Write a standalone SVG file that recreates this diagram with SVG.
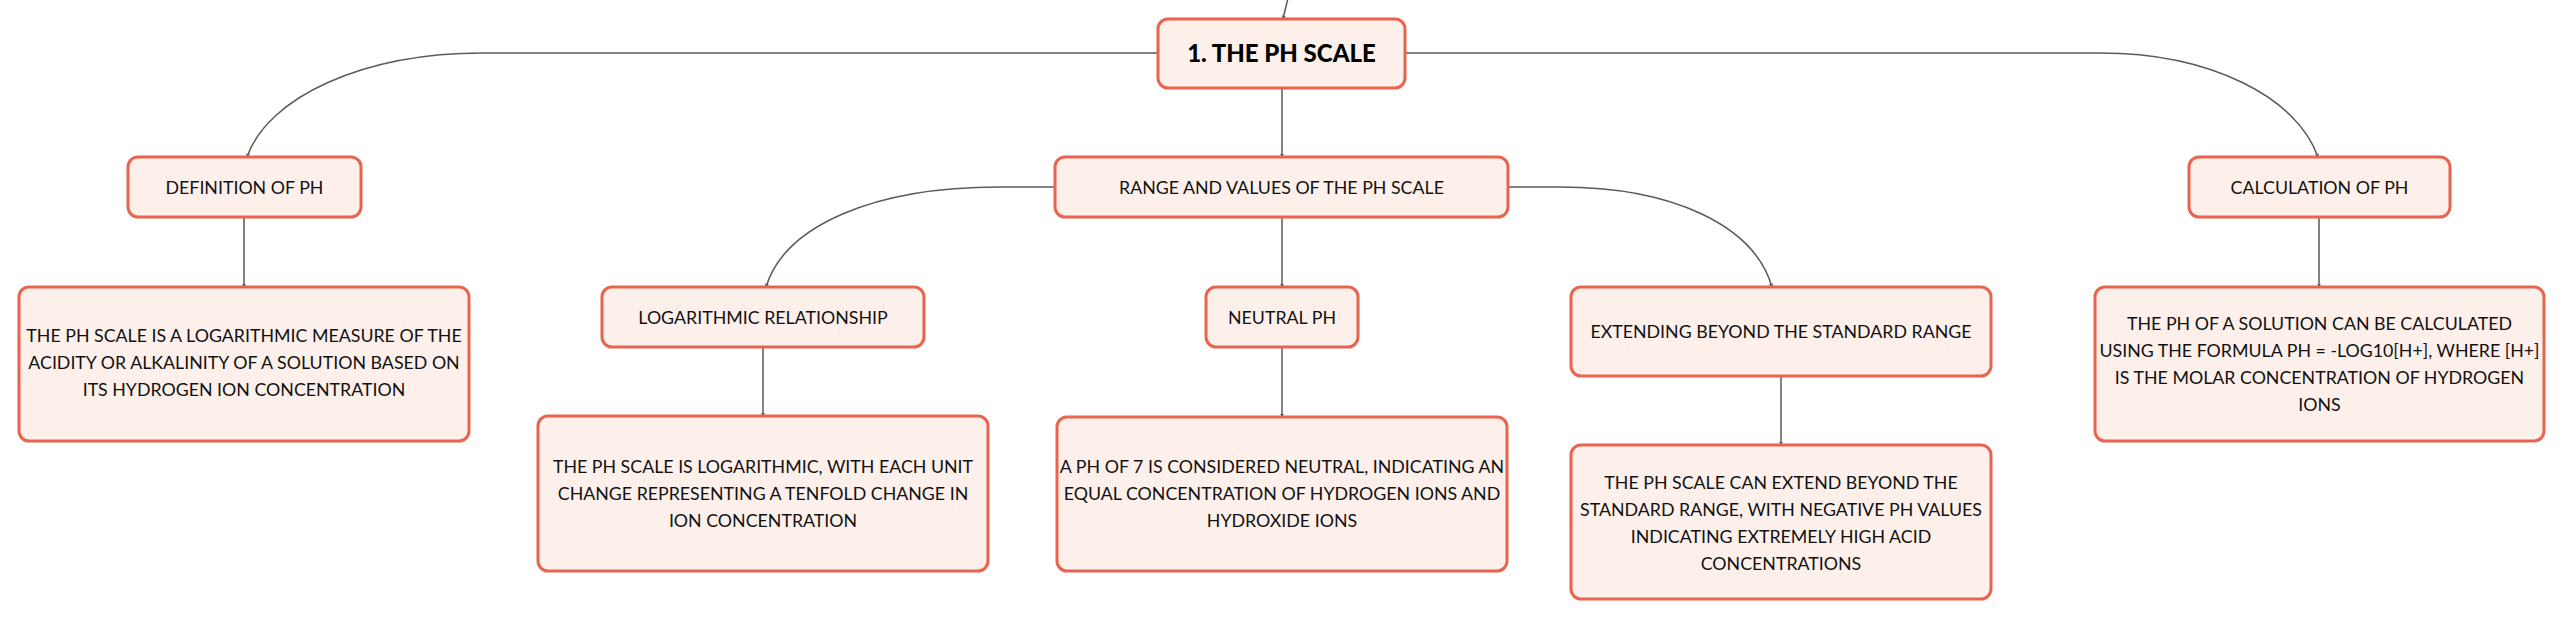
<svg xmlns="http://www.w3.org/2000/svg" width="2565" height="620" viewBox="0 0 2565 620">
<style>
.box{fill:#FDF0EB;stroke:#E8644F;stroke-width:3}
.t{font-family:Lato,"Open Sans","Liberation Sans",sans-serif;font-size:17.8px;fill:#111;text-anchor:middle}
.tb{font-family:Lato,"Open Sans","Liberation Sans",sans-serif;font-size:24px;font-weight:900;fill:#000;text-anchor:middle}
.c{fill:none;stroke:#5a5a5a;stroke-width:1.5;marker-end:url(#ah)}
</style>
<defs>
<marker id="ah" viewBox="0 0 6 6" refX="5" refY="3" markerWidth="4" markerHeight="4" markerUnits="userSpaceOnUse" orient="auto"><path d="M0,0 L6,3 L0,6 z" fill="#5a5a5a"/></marker>
</defs>
<rect width="2565" height="620" fill="#fff"/>
<g id="connectors">
<path class="c" d="M1288,-2 L1283,19"/>
<path class="c" d="M1158,53 L483,53 C363,53 268,97 247,157"/>
<path class="c" d="M1282,88 L1282,157"/>
<path class="c" d="M1405,53 L2100,53 C2210,53 2297,97 2318,157"/>
<path class="c" d="M244,217 L244,287"/>
<path class="c" d="M1055,187 L999,187 C875,187 785,225 766,287"/>
<path class="c" d="M1282,217 L1282,287"/>
<path class="c" d="M1508,187 L1560,187 C1672,187 1754,225 1772,287"/>
<path class="c" d="M763,347 L763,416"/>
<path class="c" d="M1282,347 L1282,417"/>
<path class="c" d="M1781,376 L1781,445"/>
<path class="c" d="M2319,217 L2319,287"/>
</g>
<g id="root"><rect class="box" x="1158" y="19" width="247" height="69" rx="10"/><text class="tb" x="1281.5" y="61.5">1. THE PH SCALE</text></g>
<g id="definition"><rect class="box" x="128" y="157" width="233" height="60" rx="10"/><text class="t" x="244.5" y="193.5">DEFINITION OF PH</text></g>
<g id="range"><rect class="box" x="1055" y="157" width="453" height="60" rx="10"/><text class="t" x="1281.5" y="193.5">RANGE AND VALUES OF THE PH SCALE</text></g>
<g id="calculation"><rect class="box" x="2189" y="157" width="261" height="60" rx="10"/><text class="t" x="2319.5" y="193.5">CALCULATION OF PH</text></g>
<g id="definition-desc"><rect class="box" x="19" y="287" width="450" height="154" rx="10"/><text class="t" x="244" y="341.5">THE PH SCALE IS A LOGARITHMIC MEASURE OF THE</text><text class="t" x="244" y="368.5">ACIDITY OR ALKALINITY OF A SOLUTION BASED ON</text><text class="t" x="244" y="395.5">ITS HYDROGEN ION CONCENTRATION</text></g>
<g id="logarithmic"><rect class="box" x="602" y="287" width="322" height="60" rx="10"/><text class="t" x="763" y="323.5">LOGARITHMIC RELATIONSHIP</text></g>
<g id="neutral"><rect class="box" x="1206" y="287" width="152" height="60" rx="10"/><text class="t" x="1282" y="323.5">NEUTRAL PH</text></g>
<g id="extending"><rect class="box" x="1571" y="287" width="420" height="89" rx="10"/><text class="t" x="1781" y="337.5">EXTENDING BEYOND THE STANDARD RANGE</text></g>
<g id="calculation-desc"><rect class="box" x="2095" y="287" width="449" height="154" rx="10"/><text class="t" x="2319.5" y="329.5">THE PH OF A SOLUTION CAN BE CALCULATED</text><text class="t" x="2319.5" y="356.5">USING THE FORMULA PH = -LOG10[H+], WHERE [H+]</text><text class="t" x="2319.5" y="383.5">IS THE MOLAR CONCENTRATION OF HYDROGEN</text><text class="t" x="2319.5" y="410.5">IONS</text></g>
<g id="logarithmic-desc"><rect class="box" x="538" y="416" width="450" height="155" rx="10"/><text class="t" x="763" y="472.5">THE PH SCALE IS LOGARITHMIC, WITH EACH UNIT</text><text class="t" x="763" y="499.5">CHANGE REPRESENTING A TENFOLD CHANGE IN</text><text class="t" x="763" y="526.5">ION CONCENTRATION</text></g>
<g id="neutral-desc"><rect class="box" x="1057" y="417" width="450" height="154" rx="10"/><text class="t" x="1282" y="472.5">A PH OF 7 IS CONSIDERED NEUTRAL, INDICATING AN</text><text class="t" x="1282" y="499.5">EQUAL CONCENTRATION OF HYDROGEN IONS AND</text><text class="t" x="1282" y="526.5">HYDROXIDE IONS</text></g>
<g id="extending-desc"><rect class="box" x="1571" y="445" width="420" height="154" rx="10"/><text class="t" x="1781" y="488.5">THE PH SCALE CAN EXTEND BEYOND THE</text><text class="t" x="1781" y="515.5">STANDARD RANGE, WITH NEGATIVE PH VALUES</text><text class="t" x="1781" y="542.5">INDICATING EXTREMELY HIGH ACID</text><text class="t" x="1781" y="569.5">CONCENTRATIONS</text></g>
</svg>
